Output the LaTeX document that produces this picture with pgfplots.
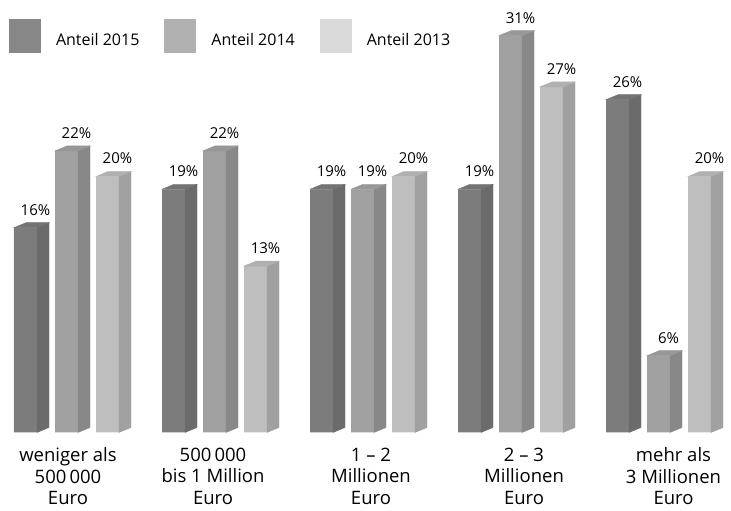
\documentclass[border=0pt]{standalone}
\usepackage{fontspec}
\setmainfont{Open Sans}
\usepackage{pgfplots}
\usepackage{pgfplotstable}
\pgfplotsset{compat=1.18}
\definecolor{f15}{HTML}{7C7C7C}
\definecolor{s15}{HTML}{6B6B6B}
\definecolor{t15}{HTML}{737373}
\definecolor{f14}{HTML}{A0A0A0}
\definecolor{s14}{HTML}{888888}
\definecolor{t14}{HTML}{979797}
\definecolor{f13}{HTML}{BEBEBE}
\definecolor{s13}{HTML}{A0A0A0}
\definecolor{t13}{HTML}{B0B0B0}
\definecolor{l15}{HTML}{878787}
\definecolor{l14}{HTML}{B1B1B1}
\definecolor{l13}{HTML}{DADADA}

\pgfplotstableread{
g v15 v14 v13
0 16 22 20
1 19 22 13
2 19 19 20
3 19 31 27
4 26 6 20
}\datatable

\pgfplotsset{
  front/.style 2 args={ybar, bar width=23pt, bar shift=#1pt, fill=#2, draw=none, forget plot,
     nodes near coords={\pgfmathprintnumber{\pgfplotspointmeta}\%},
     every node near coord/.append style={anchor=base, xshift=#1pt+10pt, yshift=12.5pt,
        font=\fontsize{15}{18}\selectfont, inner sep=0pt, text=black}},
  depth/.style n args={3}{scatter, only marks, mark=text, text mark={}, forget plot,
     visualization depends on={y \as \rawy},
     scatter/@pre marker code/.code={%
       \pgfmathsetmacro\hh{-12.8*\rawy}%
       \pgfmathsetmacro\xa{#1-11.5}%
       \pgfmathsetmacro\xb{#1+11.5}%
       \pgfmathsetmacro\xc{#1+23.5}%
       \pgfmathsetmacro\xd{#1+0.5}%
       \pgfmathsetmacro\hb{\hh+5}%
       \fill[#2] (\xb pt,0pt) -- (\xc pt,5pt) -- (\xc pt,\hb pt) -- (\xb pt,\hh pt) -- cycle;
       \fill[#3] (\xa pt,0pt) -- (\xb pt,0pt) -- (\xc pt,5pt) -- (\xd pt,5pt) -- cycle;
     },
     scatter/@post marker code/.code={}},
}

\begin{document}
\begin{tikzpicture}
\begin{axis}[
  x=148pt, y=12.8pt,
  xmin=-0.449324, xmax=4.489865,
  ymin=-6.1328, ymax=33.7891,
  axis line style={draw=none}, tick style={draw=none}, ytick=\empty,
  xtick={0.0101,0.9899,2.0574,3.0912,4.1014},
  xticklabels={{weniger als\\500\,000\\Euro},{500\,000\\bis 1 Million\\Euro},{1 – 2\\Millionen\\Euro},{2 – 3\\Millionen\\Euro},{mehr als\\3 Millionen\\Euro}},
  xticklabel style={align=center, anchor=north, inner sep=0pt, yshift=63.5pt, font=\fontsize{18.5}{21.5}\selectfont},
  clip=false,
  /pgf/number format/assume math mode=true,
  legend image code/.code={\fill[#1] (0pt,-13pt) rectangle (32pt,21pt);},
  legend style={at={(rel axis cs:0.01231,0.96282)}, anchor=north west, draw=none, fill=none,
    inner sep=0pt, outer sep=0pt, legend columns=3, font=\fontsize{16}{19}\selectfont,
    /tikz/every odd column/.append style={column sep=15pt},
    /tikz/every even column/.append style={column sep=25pt},
    nodes={inner sep=0pt}},
]
\addlegendimage{fill=l15, draw=none}
\addlegendimage{fill=l14, draw=none}
\addlegendimage{fill=l13, draw=none}

\addplot[depth={-41}{s15}{t15}] table[x=g,y=v15]{\datatable};
\addplot[front={-41}{f15}] table[x=g,y=v15]{\datatable};
\addplot[depth={0}{s14}{t14}] table[x=g,y=v14]{\datatable};
\addplot[front={0}{f14}] table[x=g,y=v14]{\datatable};
\addplot[depth={41}{s13}{t13}] table[x=g,y=v13]{\datatable};
\addplot[front={41}{f13}] table[x=g,y=v13]{\datatable};

\legend{Anteil 2015, Anteil 2014, Anteil 2013}
\coordinate (bl) at (rel axis cs:0,0);
\coordinate (tr) at (rel axis cs:1,1);
\end{axis}
\pgfresetboundingbox
\path[use as bounding box] (bl) rectangle (tr);
\end{tikzpicture}
\end{document}
